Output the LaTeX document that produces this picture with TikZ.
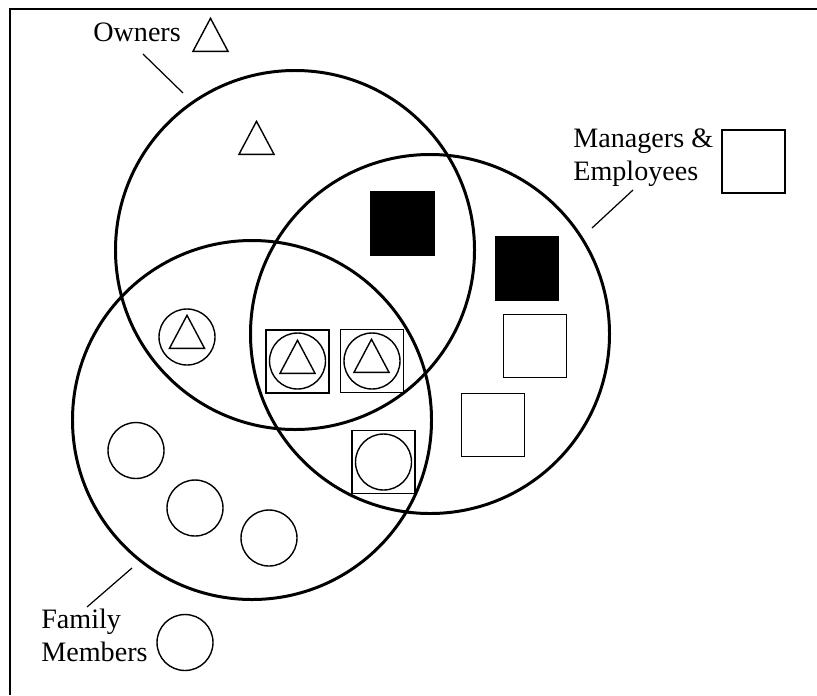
\documentclass[tikz,border=0pt]{standalone}
\usepackage{fontspec}
\setmainfont{Liberation Serif}
\usetikzlibrary{shapes.geometric,positioning}

\begin{document}
\begin{tikzpicture}
  [x=0.2mm,y=-0.2mm,
   set/.style={circle,draw,line width=1.7pt,minimum size=71.8mm,inner sep=0pt},
   member/.style={circle,draw,line width=.8pt,minimum size=11.2mm,inner sep=0pt},
   manager/.style={rectangle,draw,line width=.8pt,minimum size=12.6mm,inner sep=0pt},
   black manager/.style={manager,fill=black},
   owner/.style={isosceles triangle,isosceles triangle stretches,shape border rotate=90,
     draw,line width=.8pt,minimum width=7mm,minimum height=6.6mm,inner sep=0pt,anchor=south},
   label text/.style={font=\fontsize{16}{18.8}\selectfont,inner sep=0pt},
   pointer/.style={line width=.7pt}]

  \useasboundingbox (0,0) rectangle (817,695);
  \draw [line width=1.2pt] (10,695) |- (817,9);

  % the three sets
  \node [set] (own) at (295,250) {};
  \node [set] (mgr) at (430,334) {};
  \node [set] (fam) at (252,420) {};

  % keys
  \node [label text,anchor=base west] (owners) at (93,41) {Owners};
  \node [owner] (own key) at (210.5,52) {};
  \node [label text,anchor=north west,align=left] (mgrs) at (573,128) {Managers \&\\Employees};
  \node [manager] (mgr key) at (753.5,161.5) {};
  \node [label text,anchor=north west,align=left] (family) at (41,609) {Family\\Members};
  \node [member] (fam key) at (185,642.5) {};

  \coordinate (own a) at (143,54);  \coordinate (own b) at (183,93);
  \coordinate (mgr a) at (633,190); \coordinate (mgr b) at (592,228);
  \coordinate (fam a) at (87,607);  \coordinate (fam b) at (132,568);
  \draw [pointer] (own a) -- (own b);
  \draw [pointer] (mgr a) -- (mgr b);
  \draw [pointer] (fam a) -- (fam b);

  % owners only
  \node [owner] (o1) at (256.5,155) {};

  % managers only
  \node [black manager] (m1) at (402.5,223.5) {};
  \node [black manager] (m2) at (527,268.5) {};
  \node [manager] (m3) at (535,346) {};
  \node [manager] (m4) at (493,425) {};

  % family only
  \node [member] (f1) at (136,450.5) {};
  \node [member] (f2) at (195,508) {};
  \node [member] (f3) at (269,538) {};

  % owners and family
  \node [member] (of1) at (187,337) {};
  \node [owner] (of1 t) at (187,349) {};

  % all three
  \node [manager] (a1) at (297.5,361.5) {};
  \node [member] (a1 c) at (297.5,361) {};
  \node [owner] (a1 t) at (297.5,374) {};
  \node [manager] (a2) at (372,361) {};
  \node [member] (a2 c) at (372,361) {};
  \node [owner] (a2 t) at (371.5,373) {};

  % family and managers
  \node [manager] (fm1) at (383.5,462) {};
  \node [member] (fm1 c) at (383.5,462) {};

\end{tikzpicture}
\end{document}
